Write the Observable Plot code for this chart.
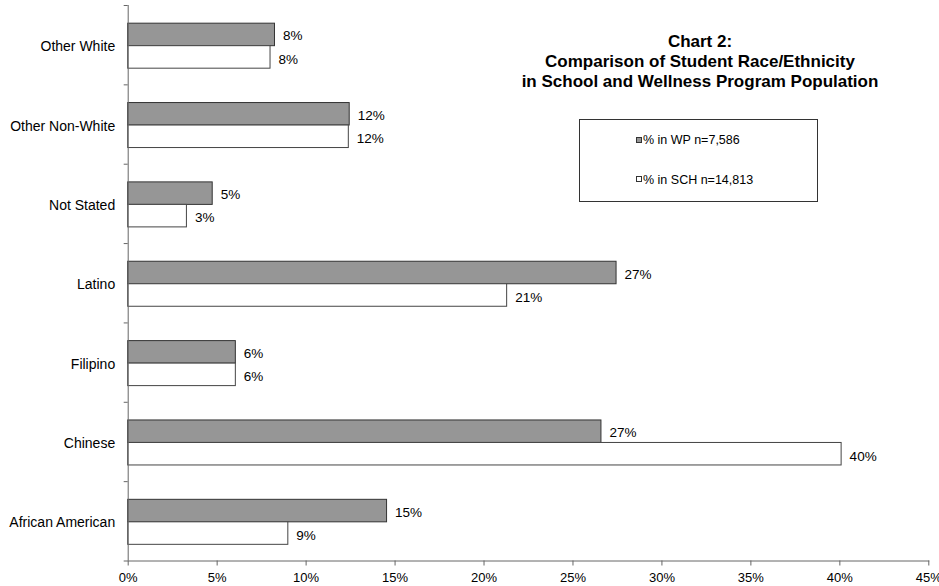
<!DOCTYPE html>
<html>
<head>
<meta charset="utf-8">
<script src="https://cdn.jsdelivr.net/npm/d3@7"></script>
<script src="https://cdn.jsdelivr.net/npm/@observablehq/plot@0.6"></script>
<style>
  body { margin: 0; background: #fff; }
  #wrap { position: relative; width: 939px; height: 586px; font-family: "Liberation Sans", Arial, sans-serif; color: #000; }
  #title { position: absolute; left: 500px; width: 400px; top: 32.4px; text-align: center; font-weight: bold; font-size: 17px; line-height: 20px; }
  #legend { position: absolute; left: 579px; top: 119px; width: 239px; height: 83px; box-sizing: border-box; border: 1px solid #333; background: #fff; font-size: 12.5px; }
  .entry { position: absolute; left: 56px; line-height: 14px; white-space: nowrap; }
  .sw { display: inline-block; width: 6px; height: 6px; box-sizing: border-box; border: 1px solid #333; vertical-align: middle; margin-right: 1px; position: relative; top: -1px; }
</style>
</head>
<body>
<div id="wrap"></div>
<script>
// ---- data ----
const categories = ["Other White", "Other Non-White", "Not Stated", "Latino", "Filipino", "Chinese", "African American"];
const wpValues  = [8.25, 12.45, 4.75, 27.45, 6.05, 26.6, 14.55];
const schValues = [8.0, 12.4, 3.3, 21.3, 6.05, 40.1, 9.0];
const seriesNames = ["% in WP n=7,586", "% in SCH n=14,813"];
const seriesFills = ["#969696", "#ffffff"];
const xTicks = [0, 5, 10, 15, 20, 25, 30, 35, 40, 45];
const titleLines = ["Chart 2:", "Comparison of Student Race/Ethnicity", "in School and Wellness Program Population"];

// ---- layout ----
const W = 939, H = 586, mL = 127.7, mR = 10.7, mT = 5, mB = 25.5;
const step = (H - mT - mB) / categories.length;
const barH = 22.5;
const mid = step / 2 + 1;

const wpRows = categories.map((c, i) => ({cat: c, series: seriesNames[0], value: wpValues[i]}));
const schRows = categories.map((c, i) => ({cat: c, series: seriesNames[1], value: schValues[i]}));
const fmt = d => Math.round(d.value) + "%";

const chart = Plot.plot({
  width: W, height: H,
  marginLeft: mL, marginRight: mR, marginTop: mT, marginBottom: mB,
  style: {fontFamily: "Liberation Sans, Arial, sans-serif", fontSize: "13.5px", color: "#000", background: "transparent", overflow: "visible"},
  x: {domain: [0, 45], label: null},
  y: {domain: categories, type: "band", padding: 0, round: false, label: null},
  marks: [
    Plot.barX(wpRows, {x: "value", y: "cat", fill: seriesFills[0], stroke: "#333", strokeWidth: 1,
      insetTop: mid - barH, insetBottom: step - mid}),
    Plot.barX(schRows, {x: "value", y: "cat", fill: seriesFills[1], stroke: "#444", strokeWidth: 1,
      insetTop: mid, insetBottom: step - mid - barH}),
    Plot.text(wpRows, {x: "value", y: "cat", text: fmt, dx: 8, dy: (mid - barH / 2) - step / 2 + 1.2,
      textAnchor: "start", fontSize: 13.5, fill: "#000"}),
    Plot.text(schRows, {x: "value", y: "cat", text: fmt, dx: 8, dy: (mid + barH / 2) - step / 2 + 2,
      textAnchor: "start", fontSize: 13.5, fill: "#000"}),
    Plot.ruleX([0], {stroke: "#666"}),
    Plot.frame({anchor: "bottom", insetLeft: -4, stroke: "#666"}),
    Plot.axisX({ticks: xTicks, tickFormat: d => d + "%", tickSize: 5, tickPadding: 6.5, fontSize: 13,
      stroke: "#666", fill: "#000", label: null}),
    Plot.axisY({tickSize: 0, tickPadding: 13, fontSize: 14, dy: 1.5, fill: "#000", label: null}),
    Plot.axisY({tickSize: 4, fill: "none", stroke: "#666", dy: -step / 2, label: null})
  ]
});

const wrap = document.getElementById("wrap");
wrap.appendChild(chart);

const title = document.createElement("div");
title.id = "title";
titleLines.forEach((t, i) => {
  if (i) title.appendChild(document.createElement("br"));
  title.appendChild(document.createTextNode(t));
});
wrap.appendChild(title);

const legend = document.createElement("div");
legend.id = "legend";
const entryTops = [13.3, 52.7];
seriesNames.forEach((name, i) => {
  const e = document.createElement("div");
  e.className = "entry";
  e.style.top = entryTops[i] + "px";
  const sw = document.createElement("span");
  sw.className = "sw";
  sw.style.background = seriesFills[i];
  e.appendChild(sw);
  e.appendChild(document.createTextNode(name));
  legend.appendChild(e);
});
wrap.appendChild(legend);
</script>
</body>
</html>
